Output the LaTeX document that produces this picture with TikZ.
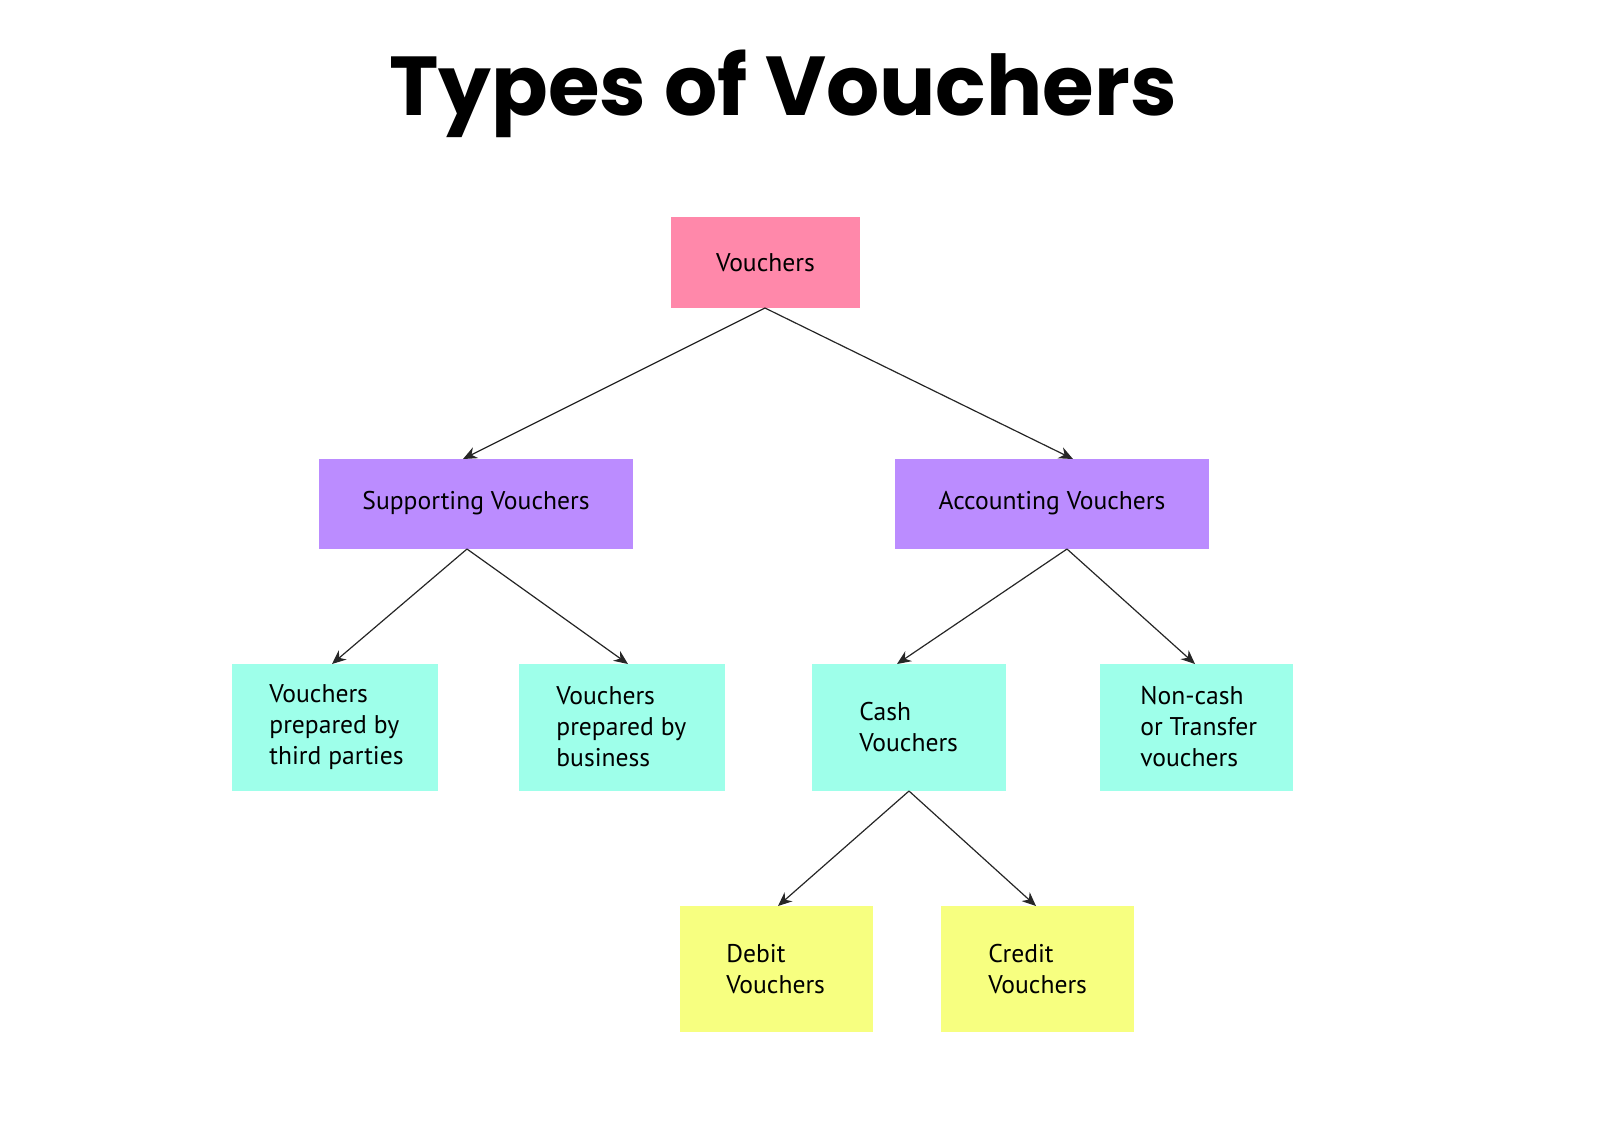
\documentclass[tikz,border=0pt]{standalone}
\usepackage{fontspec}
\setmainfont{PT Sans}
\newfontfamily\titlefont{Poppins}
\usetikzlibrary{arrows.meta}
\begin{document}
\begin{tikzpicture}[x=0.5pt,y=-0.5pt,
  lbl/.style={font=\fontsize{12.8}{15.5}\selectfont,align=left,anchor=west,inner sep=0},
  clbl/.style={font=\fontsize{12.8}{15.5}\selectfont,inner sep=0},
  arr/.style={-{Stealth[length=7pt,width=6pt]},line width=0.6pt,black!85}]
\useasboundingbox (0,0) rectangle (1600,1132);
\node[font=\titlefont\bfseries\fontsize{41.8}{50}\selectfont] (title) at (783,94) {Types of Vouchers};
\fill[color={rgb,255:red,255;green,136;blue,170}] (671,217) rectangle (860,308);
\fill[color={rgb,255:red,187;green,140;blue,255}] (319,459) rectangle (633,549);
\fill[color={rgb,255:red,187;green,140;blue,255}] (895,459) rectangle (1209,549);
\fill[color={rgb,255:red,158;green,255;blue,234}] (232,664) rectangle (438,791);
\fill[color={rgb,255:red,158;green,255;blue,234}] (519,664) rectangle (725,791);
\fill[color={rgb,255:red,158;green,255;blue,234}] (812,664) rectangle (1006,791);
\fill[color={rgb,255:red,158;green,255;blue,234}] (1100,664) rectangle (1293,791);
\fill[color={rgb,255:red,247;green,255;blue,128}] (680,906) rectangle (873,1032);
\fill[color={rgb,255:red,247;green,255;blue,128}] (941,906) rectangle (1134,1032);
\node[clbl] (v) at (765.5,262.5) {Vouchers};
\node[clbl] (s) at (476,503) {Supporting Vouchers};
\node[clbl] (a) at (1052,503) {Accounting Vouchers};
\node[lbl] (t) at (269,727) {Vouchers\\prepared by\\third parties};
\node[lbl] (b) at (556,727) {Vouchers\\prepared by\\business};
\node[lbl] (c) at (859,727) {Cash\\Vouchers};
\node[lbl] (n) at (1140,727) {Non-cash\\or Transfer\\vouchers};
\node[lbl] (d) at (726,969) {Debit\\Vouchers};
\node[lbl] (cr) at (988,969) {Credit\\Vouchers};
\coordinate (v0) at (765,308);
\coordinate (s0) at (467,549);
\coordinate (a0) at (1067,549);
\coordinate (c0) at (909,791);
\coordinate (s1) at (463,459);
\coordinate (a1) at (1073,459);
\coordinate (t1) at (332,664);
\coordinate (b1) at (628,664);
\coordinate (c1) at (897,664);
\coordinate (n1) at (1195,664);
\coordinate (d1) at (778,906);
\coordinate (cr1) at (1036,906);
\draw[arr] (v0) -- (s1);
\draw[arr] (v0) -- (a1);
\draw[arr] (s0) -- (t1);
\draw[arr] (s0) -- (b1);
\draw[arr] (a0) -- (c1);
\draw[arr] (a0) -- (n1);
\draw[arr] (c0) -- (d1);
\draw[arr] (c0) -- (cr1);
\end{tikzpicture}
\end{document}
